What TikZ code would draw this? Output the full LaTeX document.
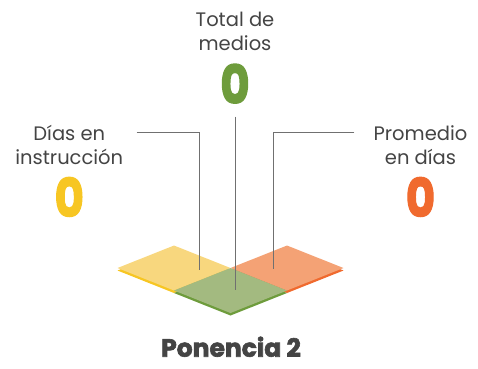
\documentclass[tikz,border=0pt]{standalone}
\usepackage{fontspec}
\setmainfont{Poppins}
\newfontfamily\numfont{Poppins}[BoldFeatures={FakeBold=2.5}]
\usetikzlibrary{calc,math}

\definecolor{yelL}{HTML}{F8D77E}
\definecolor{yelD}{HTML}{F7C623}
\definecolor{grnL}{HTML}{A3BA80}
\definecolor{grnD}{HTML}{6E9C3C}
\definecolor{orgL}{HTML}{F4A275}
\definecolor{orgD}{HTML}{F06A2E}
\definecolor{txtgray}{HTML}{444444}
\definecolor{linegray}{HTML}{707070}

\tikzset{
    lab/.style={align=center, inner sep=0pt, text=txtgray, font=\fontsize{19.5}{24}\selectfont},
    num/.style={inner sep=0pt, font=\fontsize{53}{53}\selectfont\numfont\bfseries, xscale=0.85},
    conn/.style={draw=linegray, line width=0.9pt}
}

\begin{document}
\begin{tikzpicture}[x=1pt,y=-1pt]
    \useasboundingbox (0,0) rectangle (478,368);
    \tikzmath{ \w=56.5; \h=22.5; \t=2.5; }
    \coordinate (Y) at (174,268);
    \coordinate (O) at (287,268);
    \coordinate (G) at (230.5,290.5);
    % tiles, back to front
    \foreach \c/\lt/\dk in {Y/yelL/yelD, O/orgL/orgD, G/grnL/grnD} {
        \fill[\dk] ($(\c)+(-\w,\t)$) -- ($(\c)+(0,-\h+\t)$) -- ($(\c)+(\w,\t)$) -- ($(\c)+(0,\h+\t)$) -- cycle;
        \fill[\lt] ($(\c)+(-\w,0)$) -- ($(\c)+(0,-\h)$) -- ($(\c)+(\w,0)$) -- ($(\c)+(0,\h)$) -- cycle;
    }

    % labels and values
    \node[lab, anchor=base] (tgrn) at (235,50) {Total de\\medios};
    \node[num, text=grnD] (ngrn) at (235,83.7) {0};
    \node[lab, anchor=base] (tyel) at (69.3,164) {Días en\\instrucción};
    \node[num, text=yelD] (nyel) at (69.3,197) {0};
    \node[lab, anchor=base] (torg) at (420.5,164) {Promedio\\en días};
    \node[num, text=orgD] (norg) at (420.5,197) {0};
    \node[anchor=base, inner sep=0pt, text=txtgray, font=\fontsize{25}{30}\selectfont\numfont\bfseries] (title) at (231,356.7) {Ponencia 2};

    % connectors
    \coordinate (ya) at (136.7,132.3);
    \coordinate (yb) at (199,270);
    \coordinate (oa) at (354.3,132.3);
    \coordinate (ob) at (273,268.7);
    \coordinate (ga) at (235,116.7);
    \coordinate (gb) at (235,290);
    \draw[conn] (ya) -| (yb);
    \draw[conn] (oa) -| (ob);
    \draw[conn] (ga) -- (gb);
\end{tikzpicture}
\end{document}
